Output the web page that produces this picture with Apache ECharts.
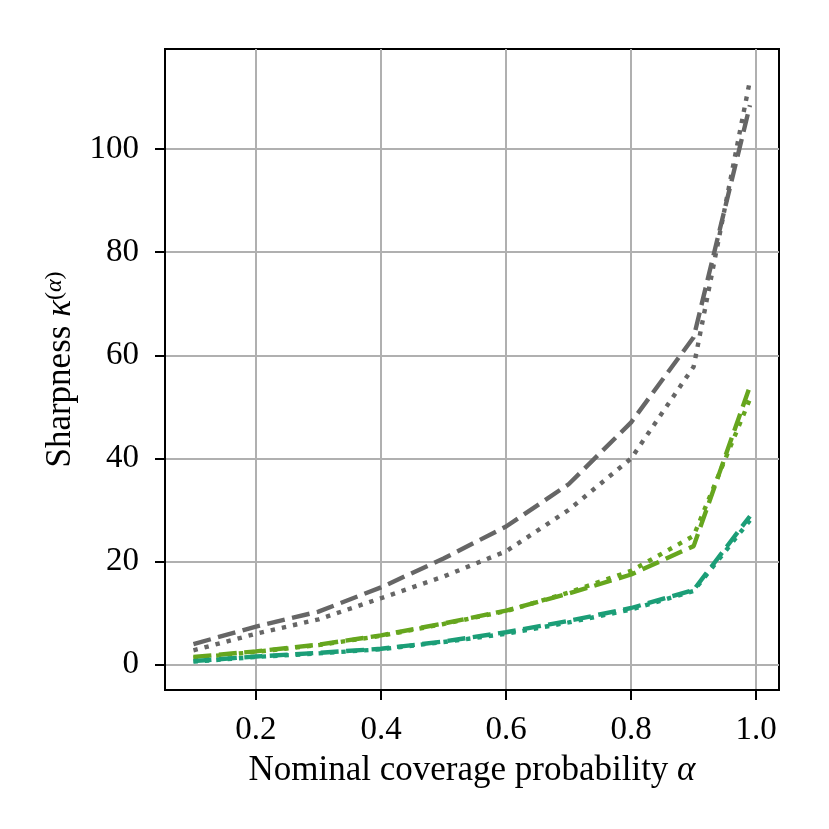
<!DOCTYPE html>
<html style="height: 100%">
<head>
	<meta charset="utf-8">
</head>
<body style="height: 100%; margin: 0; background: #fff">
<div id="container" style="width: 829px; height: 829px"></div>
<script type="text/javascript" src="https://cdn.jsdelivr.net/npm/echarts@6/dist/echarts.min.js"></script>
<script type="text/javascript">
    var dom = document.getElementById("container");
    var myChart = echarts.init(dom);

    // nominal coverage levels
    var alphas = [0.1, 0.2, 0.3, 0.4, 0.5, 0.6, 0.7, 0.8, 0.9, 0.99];

    // sharpness
    var grayDashed  = [4.0, 7.4, 10.3, 15.0, 20.6, 26.8, 35.0, 47.0, 63.5, 108.5];
    var grayDotted  = [2.8, 6.0, 8.8, 12.9, 17.1, 22.0, 30.0, 40.0, 57.8, 113.3];
    var greenDashed = [1.5, 2.6, 3.9, 5.7, 8.0, 10.5, 13.8, 17.5, 23.0, 54.0];
    var greenDotted = [1.3, 2.5, 3.8, 5.6, 7.9, 10.4, 14.0, 18.2, 25.0, 51.5];
    var tealDashed  = [0.7, 1.6, 2.3, 3.1, 4.5, 6.3, 8.5, 11.0, 14.5, 28.8];
    var tealDotted  = [0.6, 1.5, 2.2, 3.0, 4.4, 6.0, 8.2, 10.7, 14.3, 28.0];

    var xTicks = [0.2, 0.4, 0.6, 0.8, 1.0];
    var yTicks = [0, 20, 40, 60, 80, 100];

    var serif = 'Liberation Serif';
    var dashed = [18, 7.5];
    var dotted = [4.4, 7];

    function pairs(ys) {
        return alphas.map(function (a, i) { return [a, ys[i]]; });
    }

    function line(ys, color, dash) {
        return {
            type: 'line',
            data: pairs(ys),
            symbol: 'none',
            lineStyle: { color: color, width: 4.4, type: dash, cap: 'butt' }
        };
    }

    var option = {
        animation: false,
        backgroundColor: '#ffffff',
        grid: {
            left: 165, right: 50, top: 49, bottom: 139,
            show: true, borderColor: '#000', borderWidth: 2,
            outerBoundsMode: 'none'
        },
        xAxis: {
            type: 'value',
            min: 0.0545,
            max: 1.0365,
            name: '{n|Nominal coverage probability }{a|α}',
            nameLocation: 'middle',
            nameGap: 63,
            nameTextStyle: {
                rich: {
                    n: { fontFamily: serif, fontSize: 35, color: '#000' },
                    a: { fontFamily: serif, fontSize: 35, fontStyle: 'italic', color: '#000' }
                }
            },
            axisLine: { onZero: false, lineStyle: { color: '#000', width: 2 } },
            axisTick: { customValues: xTicks, length: 10, lineStyle: { color: '#000', width: 2 } },
            axisLabel: {
                customValues: xTicks,
                margin: 24,
                fontFamily: serif, fontSize: 33, color: '#000',
                formatter: function (v) { return v.toFixed(1); }
            },
            splitLine: { show: true, lineStyle: { color: '#b0b0b0', width: 2 } }
        },
        yAxis: {
            type: 'value',
            min: -4.9,
            max: 119.4,
            name: '{t|Sharpness }{k|κ}{s|(}{sa|α}{s|)}',
            nameLocation: 'middle',
            nameRotate: 90,
            nameGap: 87,
            nameTextStyle: {
                rich: {
                    t: { fontFamily: serif, fontSize: 35, color: '#000' },
                    k: { fontFamily: serif, fontSize: 35, fontStyle: 'italic', color: '#000' },
                    s: { fontFamily: serif, fontSize: 24, color: '#000', verticalAlign: 'top' },
                    sa: { fontFamily: serif, fontSize: 24, fontStyle: 'italic', color: '#000', verticalAlign: 'top' }
                }
            },
            axisLine: { onZero: false, lineStyle: { color: '#000', width: 2 } },
            axisTick: { customValues: yTicks, length: 10, lineStyle: { color: '#000', width: 2 } },
            axisLabel: {
                customValues: yTicks,
                margin: 26,
                fontFamily: serif, fontSize: 33, color: '#000'
            },
            splitLine: { show: true, lineStyle: { color: '#b0b0b0', width: 2 } }
        },
        series: [
            line(grayDashed, '#666666', dashed),
            line(grayDotted, '#666666', dotted),
            line(greenDashed, '#66a61e', dashed),
            line(greenDotted, '#66a61e', dotted),
            line(tealDashed, '#1b9e77', dashed),
            line(tealDotted, '#1b9e77', dotted)
        ]
    };

    myChart.setOption(option, true);
</script>
</body>
</html>
